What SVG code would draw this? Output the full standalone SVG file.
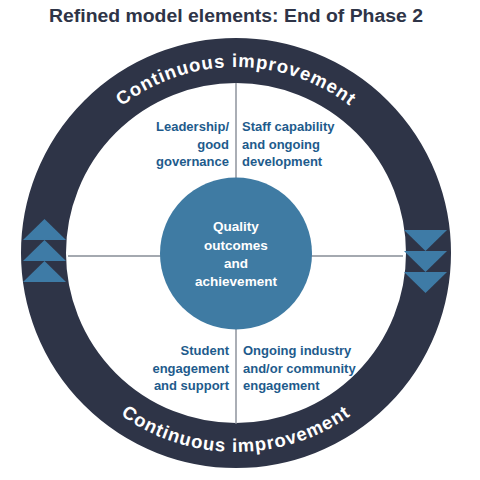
<svg xmlns="http://www.w3.org/2000/svg" width="480" height="480" viewBox="0 0 480 480">
<style>
.title{font-family:"Liberation Sans",Arial,sans-serif;font-weight:bold;font-size:18px;fill:#2e3447}
.ringtxt{font-family:"Liberation Sans",Arial,sans-serif;font-weight:bold;font-size:18.5px;fill:#ffffff;letter-spacing:1px}
.q{font-family:"Liberation Sans",Arial,sans-serif;font-weight:bold;font-size:13px;fill:#1e5b8c}
.c{font-family:"Liberation Sans",Arial,sans-serif;font-weight:bold;font-size:13.5px;fill:#ffffff;text-anchor:middle}
.tri{fill:#3e7ba6}
.conn{stroke:#868c96;stroke-width:1.4;fill:none}
</style>
<defs>
<path id="arcTop" d="M 50,253 A 186 186 0 0 1 422,253"/>
<path id="arcBot" d="M 37,253 A 199 199 0 0 0 435,253"/>
</defs>
<rect width="480" height="480" fill="#ffffff"/>
<text class="title" x="236" y="22" text-anchor="middle" textLength="374" lengthAdjust="spacingAndGlyphs">Refined model elements: End of Phase 2</text>
<g id="ring">
<circle cx="236" cy="253" r="192.5" fill="none" stroke="#2e3447" stroke-width="45"/>
<text class="ringtxt"><textPath href="#arcTop" startOffset="50%" text-anchor="middle">Continuous improvement</textPath></text>
<text class="ringtxt"><textPath href="#arcBot" startOffset="50%" text-anchor="middle">Continuous improvement</textPath></text>
</g>
<g id="arrows-up">
<polygon class="tri" points="44.5,219 66,240 23,240"/>
<polygon class="tri" points="44.5,240 66,261 23,261"/>
<polygon class="tri" points="44.5,261 66,282 23,282"/>
</g>
<g id="arrows-down">
<polygon class="tri" points="404,230 447,230 425.5,251"/>
<polygon class="tri" points="404,251 447,251 425.5,272"/>
<polygon class="tri" points="404,272 447,272 425.5,293"/>
</g>
<g id="connectors">
<line class="conn" x1="236" y1="83" x2="236" y2="424"/>
<line class="conn" x1="68" y1="256" x2="403" y2="256"/>
</g>
<g id="center">
<circle cx="236" cy="253.5" r="76" fill="#3f7ba3"/>
<text class="c" x="236" y="231">Quality</text>
<text class="c" x="236" y="249.5">outcomes</text>
<text class="c" x="236" y="268">and</text>
<text class="c" x="236" y="286">achievement</text>
</g>
<g id="leadership">
<text class="q" text-anchor="end" x="229" y="131">Leadership/</text>
<text class="q" text-anchor="end" x="229" y="148.5">good</text>
<text class="q" text-anchor="end" x="229" y="166">governance</text>
</g>
<g id="staff">
<text class="q" x="242" y="131">Staff capability</text>
<text class="q" x="242" y="148.5">and ongoing</text>
<text class="q" x="242" y="166">development</text>
</g>
<g id="student">
<text class="q" text-anchor="end" x="229" y="354.5">Student</text>
<text class="q" text-anchor="end" x="229" y="372.5">engagement</text>
<text class="q" text-anchor="end" x="229" y="390">and support</text>
</g>
<g id="industry">
<text class="q" x="243" y="354.5">Ongoing industry</text>
<text class="q" x="243" y="372.5">and/or community</text>
<text class="q" x="243" y="390">engagement</text>
</g>
</svg>
